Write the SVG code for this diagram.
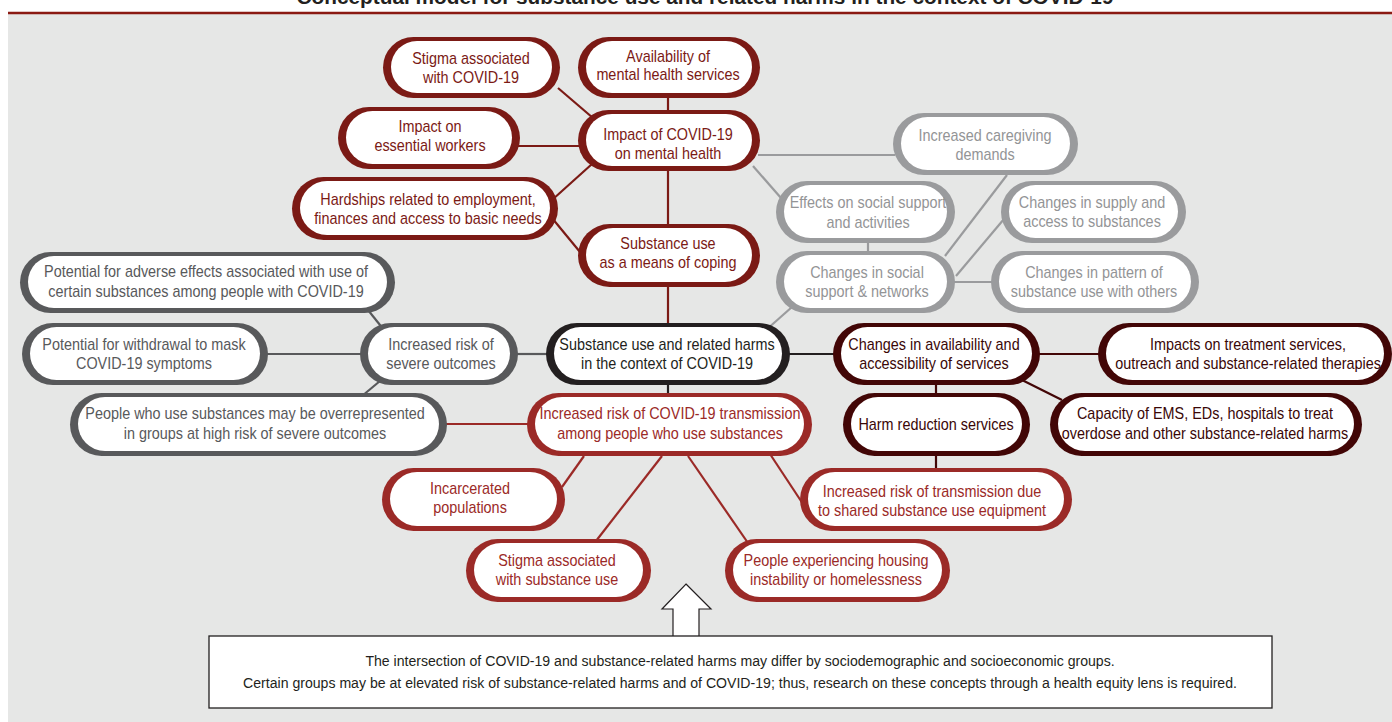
<svg xmlns="http://www.w3.org/2000/svg" width="1392" height="722" viewBox="0 0 1392 722">
<style>
text{font-family:"Liberation Sans","Arial",sans-serif;font-size:16px;text-anchor:middle}
.in{fill:#fff}
.dr .o{fill:#7b1a15}.dr text{fill:#7b1a15}
.rd .o{fill:#9b2a27}.rd text{fill:#9b2a27}
.lg .o{fill:#9a9b9d}.lg text{fill:#939496}
.dg .o{fill:#58595b}.dg text{fill:#58595b}
.bk .o{fill:#231f20}.bk text{fill:#231f20}
.mr .o{fill:#420606}.mr text{fill:#3a0707}
#connectors line{stroke-width:2.2;fill:none}
.cdr{stroke:#7b1a15}.crd{stroke:#9b2a27}.clg{stroke:#9a9b9d}.cdg{stroke:#58595b}.cbk{stroke:#231f20}.cmr{stroke:#420606}
.note text{fill:#231f20;font-size:15px}
</style>
<rect x="0" y="0" width="1392" height="722" fill="#fff"/>
<rect x="8" y="14" width="1384" height="708" fill="#e6e7e6"/>
<line x1="8" y1="13" x2="1392" y2="13" stroke="#8b1a13" stroke-width="2.5"/>
<text x="705" y="4" style="font-weight:bold;font-size:20.8px;fill:#231f20">Conceptual model for substance use and related harms in the context of COVID-19</text>

<g id="connectors">
<line class="cdr" x1="558" y1="88" x2="600" y2="124"/>
<line class="cdr" x1="668" y1="97" x2="668" y2="110"/>
<line class="cdr" x1="518" y1="146" x2="580" y2="146"/>
<line class="cdr" x1="552" y1="200" x2="592" y2="164"/>
<line class="cdr" x1="552" y1="218" x2="580" y2="252"/>
<line class="cdr" x1="668" y1="171" x2="668" y2="224"/>
<line class="cdr" x1="668" y1="287" x2="668" y2="323"/>
<line class="clg" x1="758" y1="155" x2="895" y2="155"/>
<line class="clg" x1="753" y1="166" x2="781" y2="198"/>
<line class="clg" x1="868" y1="243" x2="868" y2="251"/>
<line class="clg" x1="1007" y1="175" x2="945" y2="256"/>
<line class="clg" x1="1004" y1="219" x2="956" y2="276"/>
<line class="clg" x1="954" y1="282" x2="993" y2="282"/>
<line class="clg" x1="792" y1="307" x2="766" y2="330"/>
<line class="cdg" x1="368" y1="310" x2="384" y2="330"/>
<line class="cdg" x1="266" y1="354" x2="362" y2="354"/>
<line class="cdg" x1="380" y1="381" x2="362" y2="396"/>
<line class="cdg" x1="516" y1="354" x2="548" y2="354"/>
<line class="cbk" x1="668" y1="385" x2="668" y2="393"/>
<line class="cbk" x1="788" y1="354" x2="835" y2="354"/>
<line class="cmr" x1="1038" y1="354" x2="1100" y2="354"/>
<line class="cmr" x1="1022" y1="380" x2="1062" y2="400"/>
<line class="cmr" x1="936" y1="385" x2="936" y2="393"/>
<line class="cmr" x1="936" y1="456" x2="936" y2="468"/>
<line class="crd" x1="445" y1="424" x2="529" y2="424"/>
<line class="crd" x1="584" y1="456" x2="562" y2="487"/>
<line class="crd" x1="662" y1="456" x2="596" y2="541"/>
<line class="crd" x1="688" y1="456" x2="748" y2="543"/>
<line class="crd" x1="770" y1="454" x2="803" y2="504"/>
</g>

<g id="n-stigma-covid" class="dr"><rect class="o" x="383" y="37" width="177" height="61" rx="30.5"/><rect class="in" x="391" y="41" width="161" height="52" rx="26"/><text transform="translate(471 64) scale(.9 1)">Stigma associated</text><text transform="translate(471 83) scale(.9 1)">with COVID-19</text></g>
<g id="n-availability" class="dr"><rect class="o" x="578" y="37" width="182" height="61" rx="30.5"/><rect class="in" x="586" y="41" width="166" height="52" rx="26"/><text transform="translate(668 62) scale(.9 1)">Availability of</text><text transform="translate(668 80) scale(.9 1)">mental health services</text></g>
<g id="n-essential" class="dr"><rect class="o" x="338" y="107" width="182" height="62" rx="31"/><rect class="in" x="346" y="111" width="166" height="53" rx="26.5"/><text transform="translate(430 132) scale(.9 1)">Impact on</text><text transform="translate(430 151) scale(.9 1)">essential workers</text></g>
<g id="n-impact-mh" class="dr"><rect class="o" x="578" y="110" width="182" height="61" rx="30.5"/><rect class="in" x="586" y="114" width="166" height="52" rx="26"/><text transform="translate(668 140) scale(.9 1)">Impact of COVID-19</text><text transform="translate(668 159) scale(.9 1)">on mental health</text></g>
<g id="n-hardships" class="dr"><rect class="o" x="292" y="177" width="266" height="63" rx="31.5"/><rect class="in" x="300" y="181" width="250" height="54" rx="27"/><text transform="translate(428 205) scale(.9 1)">Hardships related to employment,</text><text transform="translate(428 224) scale(.9 1)">finances and access to basic needs</text></g>
<g id="n-coping" class="dr"><rect class="o" x="578" y="224" width="182" height="63" rx="31.5"/><rect class="in" x="586" y="228" width="166" height="54" rx="27"/><text transform="translate(668 249) scale(.9 1)">Substance use</text><text transform="translate(668 268) scale(.9 1)">as a means of coping</text></g>

<g id="n-caregiving" class="lg"><rect class="o" x="893" y="113" width="185" height="62" rx="31"/><rect class="in" x="901" y="117" width="169" height="53" rx="26.5"/><text transform="translate(985 141) scale(.9 1)">Increased caregiving</text><text transform="translate(985 160) scale(.9 1)">demands</text></g>
<g id="n-effects" class="lg"><rect class="o" x="776" y="181" width="179" height="62" rx="31"/><rect class="in" x="784" y="185" width="163" height="53" rx="26.5"/><text transform="translate(868 208) scale(.9 1)">Effects on social support</text><text transform="translate(868 228) scale(.9 1)">and activities</text></g>
<g id="n-supply" class="lg"><rect class="o" x="1001" y="181" width="185" height="62" rx="31"/><rect class="in" x="1009" y="185" width="169" height="53" rx="26.5"/><text transform="translate(1092 208) scale(.9 1)">Changes in supply and</text><text transform="translate(1092 227) scale(.9 1)">access to substances</text></g>
<g id="n-social" class="lg"><rect class="o" x="776" y="251" width="179" height="62" rx="31"/><rect class="in" x="784" y="255" width="163" height="53" rx="26.5"/><text transform="translate(867 278) scale(.9 1)">Changes in social</text><text transform="translate(867 297) scale(.9 1)">support &amp; networks</text></g>
<g id="n-pattern" class="lg"><rect class="o" x="991" y="251" width="208" height="62" rx="31"/><rect class="in" x="999" y="255" width="192" height="53" rx="26.5"/><text transform="translate(1094 278) scale(.9 1)">Changes in pattern of</text><text transform="translate(1094 297) scale(.9 1)">substance use with others</text></g>

<g id="n-adverse" class="dg"><rect class="o" x="20" y="252" width="375" height="61" rx="30.5"/><rect class="in" x="28" y="256" width="359" height="52" rx="26"/><text transform="translate(206 277) scale(.9 1)">Potential for adverse effects associated with use of</text><text transform="translate(206 297) scale(.9 1)">certain substances among people with COVID-19</text></g>
<g id="n-withdrawal" class="dg"><rect class="o" x="22" y="323" width="246" height="62" rx="31"/><rect class="in" x="30" y="327" width="230" height="53" rx="26.5"/><text transform="translate(144 350) scale(.9 1)">Potential for withdrawal to mask</text><text transform="translate(144 369) scale(.9 1)">COVID-19 symptoms</text></g>
<g id="n-severe" class="dg"><rect class="o" x="360" y="323" width="158" height="62" rx="31"/><rect class="in" x="368" y="327" width="142" height="53" rx="26.5"/><text transform="translate(441 350) scale(.9 1)">Increased risk of</text><text transform="translate(441 369) scale(.9 1)">severe outcomes</text></g>
<g id="n-overrep" class="dg"><rect class="o" x="70" y="393" width="377" height="63" rx="31.5"/><rect class="in" x="78" y="397" width="361" height="54" rx="27"/><text transform="translate(255 419) scale(.9 1)">People who use substances may be overrepresented</text><text transform="translate(255 439) scale(.9 1)">in groups at high risk of severe outcomes</text></g>

<g id="n-center" class="bk"><rect class="o" x="546" y="323" width="244" height="62" rx="31"/><rect class="in" x="554" y="327" width="228" height="53" rx="26.5"/><text transform="translate(667 350) scale(.9 1)">Substance use and related harms</text><text transform="translate(667 369) scale(.9 1)">in the context of COVID-19</text></g>

<g id="n-changes-avail" class="mr"><rect class="o" x="833" y="323" width="207" height="62" rx="31"/><rect class="in" x="841" y="327" width="191" height="53" rx="26.5"/><text transform="translate(934 350) scale(.9 1)">Changes in availability and</text><text transform="translate(934 369) scale(.9 1)">accessibility of services</text></g>
<g id="n-treatment" class="mr"><rect class="o" x="1098" y="323" width="294" height="62" rx="31"/><rect class="in" x="1106" y="327" width="278" height="53" rx="26.5"/><text transform="translate(1248 350) scale(.9 1)">Impacts on treatment services,</text><text transform="translate(1248 369) scale(.9 1)">outreach and substance-related therapies</text></g>
<g id="n-harm" class="mr"><rect class="o" x="843" y="393" width="187" height="63" rx="31.5"/><rect class="in" x="851" y="397" width="171" height="54" rx="27"/><text transform="translate(936 430) scale(.9 1)">Harm reduction services</text></g>
<g id="n-capacity" class="mr"><rect class="o" x="1050" y="393" width="312" height="63" rx="31.5"/><rect class="in" x="1058" y="397" width="296" height="54" rx="27"/><text transform="translate(1205 419) scale(.9 1)">Capacity of EMS, EDs, hospitals to treat</text><text transform="translate(1205 439) scale(.9 1)">overdose and other substance-related harms</text></g>

<g id="n-transmission" class="rd"><rect class="o" x="527" y="393" width="285" height="63" rx="31.5"/><rect class="in" x="535" y="397" width="269" height="54" rx="27"/><text transform="translate(670 419) scale(.9 1)">Increased risk of COVID-19 transmission</text><text transform="translate(670 439) scale(.9 1)">among people who use substances</text></g>
<g id="n-incarcerated" class="rd"><rect class="o" x="382" y="468" width="183" height="63" rx="31.5"/><rect class="in" x="390" y="472" width="167" height="54" rx="27"/><text transform="translate(470 494) scale(.9 1)">Incarcerated</text><text transform="translate(470 513) scale(.9 1)">populations</text></g>
<g id="n-shared" class="rd"><rect class="o" x="800" y="468" width="272" height="63" rx="31.5"/><rect class="in" x="808" y="472" width="256" height="54" rx="27"/><text transform="translate(932 497) scale(.9 1)">Increased risk of transmission due</text><text transform="translate(932 516) scale(.9 1)">to shared substance use equipment</text></g>
<g id="n-stigma-su" class="rd"><rect class="o" x="466" y="539" width="185" height="63" rx="31.5"/><rect class="in" x="474" y="543" width="169" height="54" rx="27"/><text transform="translate(557 566) scale(.9 1)">Stigma associated</text><text transform="translate(557 585) scale(.9 1)">with substance use</text></g>
<g id="n-housing" class="rd"><rect class="o" x="725" y="539" width="225" height="63" rx="31.5"/><rect class="in" x="733" y="543" width="209" height="54" rx="27"/><text transform="translate(836 566) scale(.9 1)">People experiencing housing</text><text transform="translate(836 585) scale(.9 1)">instability or homelessness</text></g>

<g id="arrow"><polygon points="686,584 711,609 699,609 699,637 673,637 673,609 662,609" fill="#fff" stroke="#231f20" stroke-width="1.2"/></g>
<g id="note" class="note"><rect x="209" y="636" width="1063" height="72" fill="#fff" stroke="#231f20" stroke-width="1.3"/>
<text transform="translate(740 666) scale(.94 1)">The intersection of COVID-19 and substance-related harms may differ by sociodemographic and socioeconomic groups.</text>
<text transform="translate(740 688) scale(.94 1)">Certain groups may be at elevated risk of substance-related harms and of COVID-19; thus, research on these concepts through a health equity lens is required.</text></g>
</svg>
